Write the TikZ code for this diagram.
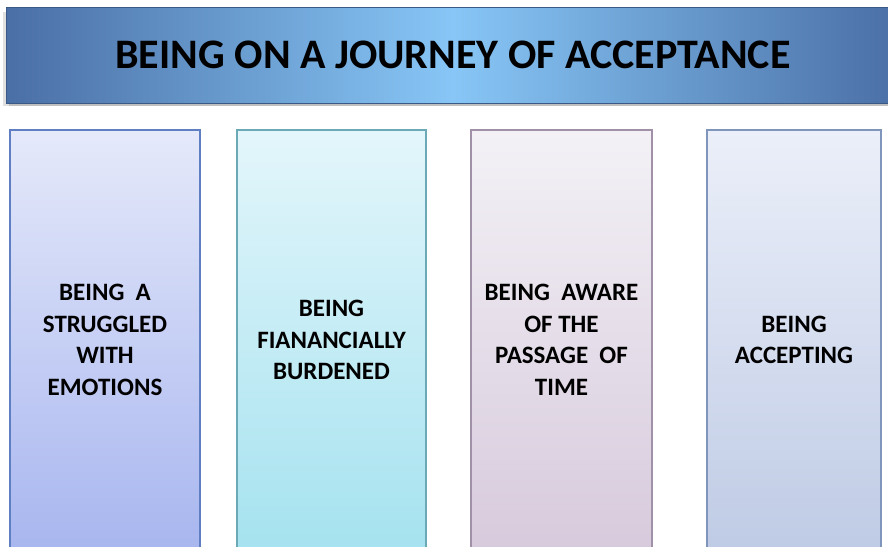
\documentclass[tikz,border=0pt]{standalone}
\usepackage{fontspec}
\setmainfont{Carlito}
\definecolor{bardark}{HTML}{4A6FA6}
\definecolor{barlight}{HTML}{87C6F6}
\definecolor{bOneTop}{HTML}{E5E9FA}
\definecolor{bOneBot}{HTML}{A8B6EF}
\definecolor{bOneLine}{HTML}{5F7FC2}
\definecolor{bTwoTop}{HTML}{E3F6FB}
\definecolor{bTwoBot}{HTML}{A5E2EF}
\definecolor{bTwoLine}{HTML}{6BA9B7}
\definecolor{bThreeTop}{HTML}{F3F1F6}
\definecolor{bThreeBot}{HTML}{D7CADC}
\definecolor{bThreeLine}{HTML}{A090A8}
\definecolor{bFourTop}{HTML}{EBEFF9}
\definecolor{bFourBot}{HTML}{BFCBE5}
\definecolor{bFourLine}{HTML}{8095BB}
\tikzset{
  titlebar/.style={draw=bardark!80!black, line width=0.8pt, left color=bardark, right color=bardark, middle color=barlight,
    minimum width=894pt, minimum height=96pt, inner sep=0pt,
    font=\bfseries\fontsize{42}{42}\selectfont},
  stagebox/.style={line width=1.4pt, minimum height=420pt, inner sep=0pt, align=center,
    font=\bfseries\fontsize{25}{31.5}\selectfont},
}
\begin{document}
\begin{tikzpicture}[x=1pt,y=-1pt]
\useasboundingbox (0,0) rectangle (888,546);
\clip (0,0) rectangle (888,546);
\fill[black!25] (9,100) rectangle (900,106);
\fill[black!12] (3,12) rectangle (9,106);
\node[titlebar] (title) at (453,55) {BEING ON A JOURNEY OF ACCEPTANCE};
\node[stagebox, draw=bOneLine, top color=bOneTop, bottom color=bOneBot, minimum width=190pt] (b1) at (105,340)
  {BEING\ \ A\\STRUGGLED\\WITH\\EMOTIONS};
\node[stagebox, draw=bTwoLine, top color=bTwoTop, bottom color=bTwoBot, minimum width=189pt] (b2) at (331.5,340)
  {BEING\\FIANANCIALLY\\BURDENED};
\node[stagebox, draw=bThreeLine, top color=bThreeTop, bottom color=bThreeBot, minimum width=181pt] (b3) at (561.5,340)
  {BEING\ \ AWARE\\OF THE\\PASSAGE\ \ OF\\TIME};
\node[stagebox, draw=bFourLine, top color=bFourTop, bottom color=bFourBot, minimum width=174pt] (b4) at (794,340)
  {BEING\\ACCEPTING};
\end{tikzpicture}
\end{document}
